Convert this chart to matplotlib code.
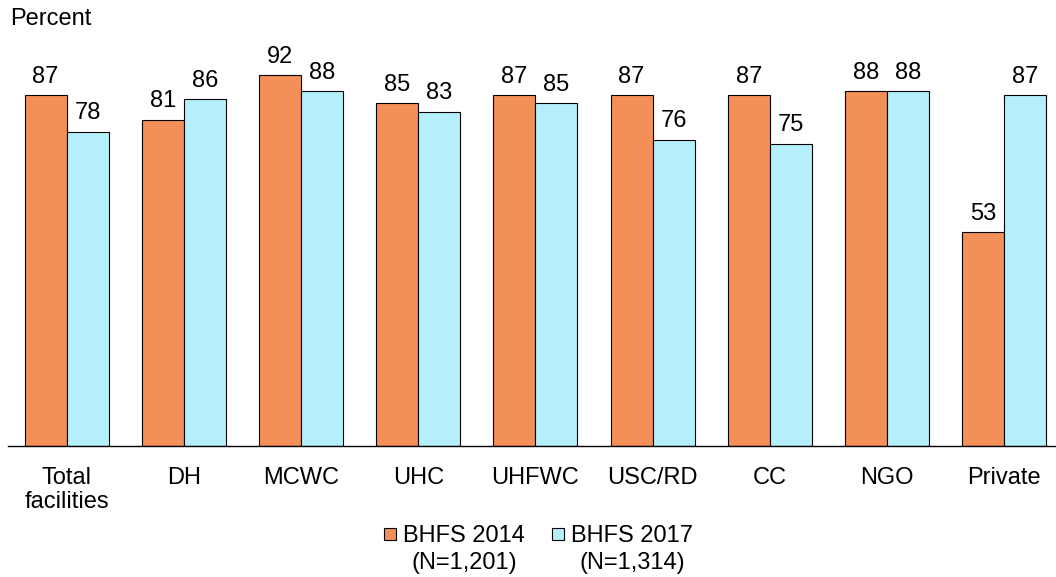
import numpy as np
import matplotlib.pyplot as plt
from matplotlib.patches import Rectangle

plt.rcParams['font.family'] = ['Liberation Sans', 'DejaVu Sans']

categories = ['Total\nfacilities', 'DH', 'MCWC', 'UHC', 'UHFWC', 'USC/RD', 'CC', 'NGO', 'Private']
bhfs_2014 = [87, 81, 92, 85, 87, 87, 87, 88, 53]
bhfs_2017 = [78, 86, 88, 83, 85, 76, 75, 88, 87]
series_labels = ['BHFS 2014\n(N=1,201)', 'BHFS 2017\n(N=1,314)']
colors = ['#F58F58', '#B5EFFB']

W, H = 1056, 577
fig = plt.figure(figsize=(W/100, H/100), dpi=100)
ax = fig.add_axes([8/W, 1 - 446/H, 1049/W, (446 - 43)/H])

x = np.arange(len(categories))
w = 0.358
b1 = ax.bar(x - w/2, bhfs_2014, w, color=colors[0], edgecolor='black', linewidth=0.8)
b2 = ax.bar(x + w/2, bhfs_2017, w, color=colors[1], edgecolor='black', linewidth=0.8)

for bars in (b1, b2):
    for r in bars:
        ax.text(r.get_x() + r.get_width()/2, r.get_height() + 1.8, '{}'.format(int(r.get_height())),
                ha='center', va='bottom', fontsize=17)

ax.set_xlim(-0.5, 8.45)
ax.set_ylim(0, 100)
ax.set_xticks(x)
ax.set_xticklabels(categories, fontsize=17, linespacing=1.15)
ax.tick_params(axis='x', length=0, pad=15)
ax.set_yticks([])
for s in ['top', 'left', 'right']:
    ax.spines[s].set_visible(False)
ax.spines['bottom'].set_linewidth(1.0)

fig.text(10/W, 1 - 19/H, 'Percent', fontsize=17, ha='left', va='center')

# legend drawn by hand: square next to first line, label centred on two lines
sq_x = [384, 552]
txt_x = [464, 632]
for i in range(2):
    fig.patches.append(Rectangle((sq_x[i]/W, 1 - 540/H), 12/W, 12/H, transform=fig.transFigure,
                                 facecolor=colors[i], edgecolor='black', linewidth=0.8))
    fig.text(txt_x[i]/W, 1 - 525/H, series_labels[i], fontsize=17, ha='center', va='top',
             multialignment='center', linespacing=1.3)

plt.savefig('out.png', dpi=100)
